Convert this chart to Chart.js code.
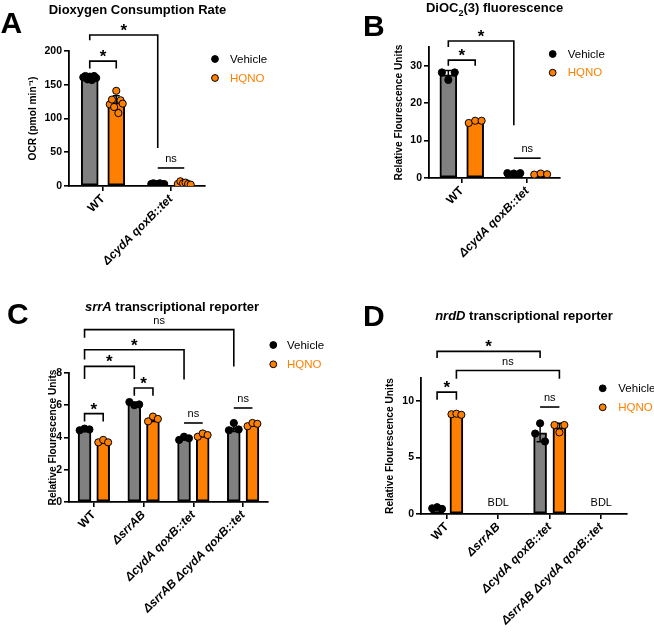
<!DOCTYPE html>
<html>
<head>
<meta charset="utf-8">
<script src="https://cdn.jsdelivr.net/npm/chart.js@4.4.1/dist/chart.umd.min.js"></script>
<style>
  body { margin: 0; background: #fff; }
  #fig { position: relative; width: 654px; height: 639px; overflow: hidden; font-family: 'Liberation Sans', Arial, sans-serif; color: #000; }
  .panel { position: absolute; }
  .letter { position: absolute; font-weight: bold; font-size: 30px; line-height: 30px; }
  .title { position: absolute; font-weight: bold; font-size: 13px; line-height: 13px; white-space: nowrap; transform: translateX(-50%); }
  .title sub { font-size: 9px; line-height: 0; }
</style>
</head>
<body>
<div id="fig">
  <div class="panel" style="left:0;top:0"><canvas id="cA" width="327" height="265"></canvas></div>
  <div class="panel" style="left:327px;top:0"><canvas id="cB" width="327" height="265"></canvas></div>
  <div class="panel" style="left:0;top:265px"><canvas id="cC" width="327" height="374"></canvas></div>
  <div class="panel" style="left:327px;top:265px"><canvas id="cD" width="327" height="374"></canvas></div>

  <div class="letter" style="left:0.5px;top:8px">A</div>
  <div class="letter" style="left:363px;top:11px">B</div>
  <div class="letter" style="left:7px;top:299px">C</div>
  <div class="letter" style="left:363px;top:301px">D</div>

  <div class="title" style="left:137.5px;top:2.5px">Dioxygen Consumption Rate</div>
  <div class="title" style="left:494.5px;top:0.5px">DiOC<sub>2</sub>(3) fluorescence</div>
  <div class="title" style="left:172px;top:300px"><i>srrA</i> transcriptional reporter</div>
  <div class="title" style="left:524px;top:309px"><i>nrdD</i> transcriptional reporter</div>
</div>
<script>
// ---- data ----
const groupsAB = ['WT', 'ΔcydA qoxB::tet'];
const groupsCD = ['WT', 'ΔsrrAB', 'ΔcydA qoxB::tet', 'ΔsrrAB ΔcydA qoxB::tet'];
const treatments = ['Vehicle', 'HQNO'];

// A: OCR (pmol/min), one list of replicates per strain
const ocrVehicle = [[161, 163, 158, 162, 157, 163, 160], [3, 4, 2, 3, 4, 2, 3]];
const ocrHqno = [[121, 128, 117, 141, 108, 127, 122], [3, 7, 4, 5, 3, 2]];

// B: DiOC2(3)
const dioVehicle = [[28.2, 26.2, 28.2], [1.3, 1.2, 1.3]];
const dioHqno = [[14.7, 15.3, 15.3], [0.9, 1.2, 1.0]];

// C: srrA reporter
const srrVehicle = [[4.45, 4.55, 4.5], [6.2, 6.0, 6.05], [3.85, 4.05, 3.95], [4.45, 4.9, 4.5]];
const srrHqno = [[3.7, 3.85, 3.7], [5.0, 5.3, 5.15], [4.05, 4.25, 4.15], [4.7, 4.9, 4.85]];

// D: nrdD reporter (null = below detection limit)
const nrdVehicle = [[0.5, 0.6, 0.45], null, [7.1, 8.0, 6.4], null];
const nrdHqno = [[8.8, 8.85, 8.75], null, [7.85, 7.2, 7.85], null];
const nrdBdl = [1, 3];

// y-axis ranges
const yMaxA = 200, yStepA = 50;
const yMaxB = 35, yStepB = 10;
const yMaxC = 8, yStepC = 2;
const yMaxD = 12, yStepD = 5;

// significance brackets: [group1, series1, group2, series2, top, leftEnd, rightEnd, label]
const sigA = [
  [0, 0, 0, 1, 185, 174, 174, '*'],
  [0, 0, 1, 0, 223.7, 215.8, 56.3, '*'],
  [1, 0, 1, 1, 26.7, null, null, 'ns']
];
const sigB = [
  [0, 0, 0, 1, 31.5, 30.0, 30.0, '*'],
  [0, 0, 1, 0, 36.6, 35.0, 14.1, '*'],
  [1, 0, 1, 1, 5.3, null, null, 'ns']
];
const sigC = [
  [0, 0, 3, 0, 10.69, 10.19, 8.41, 'ns'],
  [0, 0, 2, 0, 9.44, 8.83, 7.59, '*'],
  [0, 0, 1, 0, 8.41, 7.63, 7.63, '*'],
  [1, 0, 1, 1, 7.07, 6.59, 6.59, '*'],
  [0, 0, 0, 1, 5.48, 5.0, 5.0, '*'],
  [2, 0, 2, 1, 4.9, null, null, 'ns'],
  [3, 0, 3, 1, 5.83, null, null, 'ns']
];
const sigD = [
  [0, 0, 2, 0, 14.35, 13.77, 13.77, '*'],
  [0, 1, 2, 1, 12.66, 11.93, 11.93, 'ns'],
  [0, 0, 0, 1, 10.75, 10.09, 10.09, '*'],
  [2, 0, 2, 1, 9.44, null, null, 'ns']
];

// ---- drawing ----
const FONT = "'Liberation Sans', Arial, sans-serif";
const GREY = '#808080', ORANGE = '#ff8000';
Chart.defaults.font.family = FONT;
Chart.defaults.color = '#000';

const mean = a => a.reduce((s, v) => s + v, 0) / a.length;
const sd = a => { const m = mean(a); return Math.sqrt(a.reduce((s, v) => s + (v - m) ** 2, 0) / (a.length - 1)); };

// bars sit left/right of the group centre
function barPoints(groups, side, cfg) {
  const off = cfg.catPct / 4;
  const out = [];
  groups.forEach((g, i) => { if (g) out.push({ x: i + (side ? off : -off), y: mean(g), g }); });
  return out;
}

function scatterPoints(groups, side, cfg) {
  const off = cfg.catPct / 4;
  const half = cfg.catPct / 2 * cfg.barPct * 0.38;
  const pts = [];
  groups.forEach((g, i) => {
    if (!g) return;
    g.forEach((v, j) => {
      const dx = g.length > 1 ? -half + 2 * half * j / (g.length - 1) : 0;
      pts.push({ x: i + (side ? off : -off) + dx, y: v });
    });
  });
  return pts;
}

function sigPlugin(cfg) {
  return {
    id: 'sig',
    afterDatasetDraw(chart, args) {
      const ds = chart.data.datasets[args.index];
      if (!ds.errorBars) return;
      const ctx = chart.ctx, y = chart.scales.y;
      ctx.save();
      ctx.strokeStyle = '#000';
      ctx.lineWidth = 1.5;
      args.meta.data.forEach((bar, i) => {
        const g = ds.data[i].g;
        if (!g || g.length < 2) return;
        const m = mean(g), s = sd(g);
        const x = bar.x, yt = y.getPixelForValue(m + s), yb = y.getPixelForValue(m - s);
        ctx.beginPath();
        ctx.moveTo(x, yb); ctx.lineTo(x, yt);
        ctx.moveTo(x - 3.5, yt); ctx.lineTo(x + 3.5, yt);
        ctx.moveTo(x - 3.5, yb); ctx.lineTo(x + 3.5, yb);
        ctx.stroke();
      });
      ctx.restore();
    },
    afterDraw(chart) {
      const ctx = chart.ctx, xs = chart.scales.x, y = chart.scales.y;
      const off = cfg.catPct / 4;
      const px = (c, s) => xs.getPixelForValue(c + (s ? off : -off));
      ctx.save();
      ctx.strokeStyle = '#000';
      ctx.fillStyle = '#000';
      ctx.lineWidth = 1.6;
      ctx.textAlign = 'center';
      ctx.textBaseline = 'alphabetic';
      cfg.sig.forEach(([c1, s1, c2, s2, top, d1, d2, label]) => {
        const x1 = px(c1, s1), x2 = px(c2, s2), yt = y.getPixelForValue(top);
        ctx.beginPath();
        if (d1 != null) { ctx.moveTo(x1, y.getPixelForValue(d1)); ctx.lineTo(x1, yt); }
        else ctx.moveTo(x1, yt);
        ctx.lineTo(x2, yt);
        if (d2 != null) ctx.lineTo(x2, y.getPixelForValue(d2));
        ctx.stroke();
        if (label === '*') {
          ctx.font = 'bold 17px ' + FONT;
          ctx.fillText('*', (x1 + x2) / 2, yt + 1);
        } else {
          ctx.font = '11px ' + FONT;
          ctx.fillText(label, (x1 + x2) / 2, yt - 6);
        }
      });
      // below detection limit labels
      (cfg.bdl || []).forEach(i => {
        ctx.font = '11px ' + FONT;
        ctx.fillText('BDL', xs.getPixelForValue(i), y.getPixelForValue(0.7));
      });
      // legend
      const L = cfg.legend;
      [[L.y1, '#000', treatments[0], '#000'], [L.y2, ORANGE, treatments[1], ORANGE]].forEach(([ly, fill, txt, tc]) => {
        ctx.beginPath();
        ctx.arc(L.x, ly, 3.4, 0, Math.PI * 2);
        ctx.fillStyle = fill;
        ctx.fill();
        ctx.lineWidth = 1;
        ctx.strokeStyle = '#000';
        ctx.stroke();
        ctx.fillStyle = tc;
        ctx.font = '11.5px ' + FONT;
        ctx.textAlign = 'left';
        ctx.textBaseline = 'middle';
        ctx.fillText(txt, L.tx, ly + 0.5);
      });
      ctx.restore();
    }
  };
}

function makePanel(cfg) {
  const n = cfg.groups.length;
  const canvas = document.getElementById(cfg.id);
  const perGroup = (canvas.width - cfg.padL - cfg.yW - cfg.padR) / n;
  const thickness = perGroup * cfg.catPct / 2 * cfg.barPct;
  new Chart(canvas, {
    type: 'bar',
    data: {
      datasets: [
        { label: treatments[0], data: barPoints(cfg.vehicle, 0, cfg), errorBars: true, grouped: false,
          barThickness: thickness, backgroundColor: GREY, borderColor: '#000', borderWidth: 2, borderSkipped: false, order: 2 },
        { label: treatments[1], data: barPoints(cfg.hqno, 1, cfg), errorBars: true, grouped: false,
          barThickness: thickness, backgroundColor: ORANGE, borderColor: '#000', borderWidth: 2, borderSkipped: false, order: 2 },
        { type: 'scatter', label: treatments[0] + ' points', data: scatterPoints(cfg.vehicle, 0, cfg),
          pointRadius: 3.6, pointBackgroundColor: '#000', pointBorderColor: '#000', pointBorderWidth: 1, order: 1 },
        { type: 'scatter', label: treatments[1] + ' points', data: scatterPoints(cfg.hqno, 1, cfg),
          pointRadius: 3.6, pointBackgroundColor: ORANGE, pointBorderColor: '#000', pointBorderWidth: 1, order: 1 }
      ]
    },
    options: {
      responsive: false,
      animation: false,
      layout: { padding: { left: cfg.padL, top: cfg.padT, right: cfg.padR, bottom: 0 } },
      plugins: { legend: { display: false }, tooltip: { enabled: false } },
      scales: {
        x: {
          type: 'linear', min: -0.5, max: n - 0.5, offset: false, bounds: 'data',
          afterFit: s => { s.height = cfg.xH; },
          afterBuildTicks: s => { s.ticks = cfg.groups.map((_, i) => ({ value: i })); },
          ticks: {
            autoSkip: false, minRotation: 45, maxRotation: 45, padding: 1, color: '#000',
            callback: v => cfg.groups[v],
            font: c => ({ family: FONT, size: 12, weight: 'bold', style: c.index === 0 ? 'normal' : 'italic' })
          },
          grid: { offset: false, drawOnChartArea: false, tickLength: 5, color: '#000', lineWidth: 1.6 },
          border: { color: '#000', width: 1.8 }
        },
        y: {
          min: 0, max: cfg.yMax,
          afterFit: s => { s.width = cfg.yW; },
          afterBuildTicks: s => { s.ticks = s.ticks.filter(t => t.value % cfg.yStep === 0); },
          ticks: { stepSize: cfg.yStep, padding: 2, color: '#000', font: { size: 10.5, weight: 'bold' } },
          grid: { drawOnChartArea: false, tickLength: 5, color: '#000', lineWidth: 1.6 },
          border: { color: '#000', width: 1.8 },
          title: { display: true, text: cfg.yTitle, color: '#000', padding: 0, font: { size: 10.2, weight: 'bold' } }
        }
      }
    },
    plugins: [sigPlugin(cfg)]
  });
}

makePanel({ id: 'cA', groups: groupsAB, vehicle: ocrVehicle, hqno: ocrHqno, sig: sigA,
  yMax: yMaxA, yStep: yStepA, yTitle: 'OCR (pmol min⁻¹)',
  padL: 27, yW: 42, padT: 51, padR: 122, xH: 79, catPct: 0.78, barPct: 0.64,
  legend: { x: 215, y1: 59, y2: 78, tx: 230 } });

makePanel({ id: 'cB', groups: groupsAB, vehicle: dioVehicle, hqno: dioHqno, sig: sigB,
  yMax: yMaxB, yStep: yStepB, yTitle: 'Relative Flourescence Units',
  padL: 66, yW: 36, padT: 47, padR: 94, xH: 87, catPct: 0.82, barPct: 0.63,
  legend: { x: 225.7, y1: 54, y2: 72.7, tx: 240.7 } });

makePanel({ id: 'cC', groups: groupsCD, vehicle: srrVehicle, hqno: srrHqno, sig: sigC,
  yMax: yMaxC, yStep: yStepC, yTitle: 'Relative Flourescence Units',
  padL: 47, yW: 22, padT: 108, padR: 59, xH: 137, catPct: 0.75, barPct: 0.69,
  legend: { x: 273.3, y1: 80, y2: 99.3, tx: 287 } });

makePanel({ id: 'cD', groups: groupsCD, vehicle: nrdVehicle, hqno: nrdHqno, sig: sigD, bdl: nrdBdl,
  yMax: yMaxD, yStep: yStepD, yTitle: 'Relative Flourescence Units',
  padL: 57, yW: 37, padT: 113, padR: 27, xH: 125, catPct: 0.75, barPct: 0.67,
  legend: { x: 275.7, y1: 123.3, y2: 142.3, tx: 291.3 } });
</script>
</body>
</html>
